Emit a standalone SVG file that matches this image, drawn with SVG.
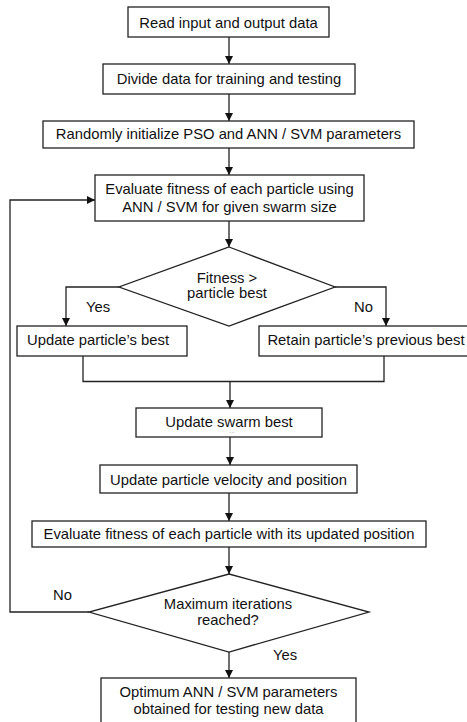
<svg xmlns="http://www.w3.org/2000/svg" width="467" height="722" viewBox="0 0 467 722">
<style>
.box{fill:#fff;stroke:#222;stroke-width:1.3}
.t{font-family:"Liberation Sans",Arial,sans-serif;font-size:14.8px;fill:#111;text-anchor:middle;dominant-baseline:central}
.lbl{font-family:"Liberation Sans",Arial,sans-serif;font-size:14.8px;fill:#111;dominant-baseline:central}
.c{fill:none;stroke:#222;stroke-width:1.3}
</style>
<defs>
<marker id="ah" markerWidth="8" markerHeight="8" refX="8" refY="4" orient="auto" markerUnits="userSpaceOnUse">
<path d="M0,0 L8,4 L0,8 Z" fill="#111"/>
</marker>
</defs>
<rect width="467" height="722" fill="#fff"/>
<g id="connectors">
<line class="c" x1="229" y1="37" x2="229" y2="64" marker-end="url(#ah)"/>
<line class="c" x1="229" y1="94" x2="229" y2="121" marker-end="url(#ah)"/>
<line class="c" x1="229" y1="148" x2="229" y2="175" marker-end="url(#ah)"/>
<line class="c" x1="229" y1="221" x2="229" y2="247" marker-end="url(#ah)"/>
<polyline class="c" points="119,287 66,287 66,326" marker-end="url(#ah)"/>
<polyline class="c" points="335,287 386,287 386,326" marker-end="url(#ah)"/>
<polyline class="c" points="83,356 83,381.5 384,381.5 384,356"/>
<line class="c" x1="230" y1="381.5" x2="230" y2="408" marker-end="url(#ah)"/>
<line class="c" x1="230" y1="437" x2="230" y2="465" marker-end="url(#ah)"/>
<line class="c" x1="229" y1="493" x2="229" y2="521" marker-end="url(#ah)"/>
<line class="c" x1="229" y1="547" x2="229" y2="574" marker-end="url(#ah)"/>
<polyline class="c" points="89,612 10,612 10,200 95,200" marker-end="url(#ah)"/>
<line class="c" x1="229" y1="652" x2="229" y2="678" marker-end="url(#ah)"/>
<text class="lbl" x="86" y="307">Yes</text>
<text class="lbl" x="354" y="307">No</text>
<text class="lbl" x="53" y="595">No</text>
<text class="lbl" x="273" y="655">Yes</text>
</g>
<g id="n1"><rect class="box" x="128" y="7" width="201" height="30"/><text class="t" x="228.5" y="22.5">Read input and output data</text></g>
<g id="n2"><rect class="box" x="103" y="64" width="252" height="30"/><text class="t" x="229" y="79">Divide data for training and testing</text></g>
<g id="n3"><rect class="box" x="43" y="121" width="371" height="27"/><text class="t" x="228.5" y="134">Randomly initialize PSO and ANN / SVM parameters</text></g>
<g id="n4"><rect class="box" x="95" y="175" width="269" height="46"/><text class="t" x="229.5" y="189">Evaluate fitness of each particle using</text><text class="t" x="229.5" y="207">ANN / SVM for given swarm size</text></g>
<g id="d1"><polygon class="box" points="229,247 335,287 229,326 119,287"/><text class="t" x="227" y="278">Fitness &gt;</text><text class="t" x="227" y="293">particle best</text></g>
<g id="n5"><rect class="box" x="17" y="326" width="170" height="30"/><text class="t" x="98" y="340">Update particle’s best</text></g>
<g id="n6"><rect class="box" x="259" y="326" width="212" height="30"/><text class="t" x="366" y="340">Retain particle’s previous best</text></g>
<g id="n7"><rect class="box" x="136" y="408" width="186" height="29"/><text class="t" x="229" y="421.5">Update swarm best</text><text x="232" y="433" font-family="Liberation Sans,sans-serif" font-size="6" fill="#777" text-anchor="middle">...</text></g>
<g id="n8"><rect class="box" x="100" y="465" width="257" height="28"/><text class="t" x="228.5" y="479.5">Update particle velocity and position</text></g>
<g id="n9"><rect class="box" x="32" y="521" width="394" height="26"/><text class="t" x="229" y="533.5">Evaluate fitness of each particle with its updated position</text></g>
<g id="d2"><polygon class="box" points="229,574 369,612 229,652 89,612"/><text class="t" x="228" y="604">Maximum iterations</text><text class="t" x="228" y="620">reached?</text></g>
<g id="n10"><rect class="box" x="101" y="678" width="255" height="50"/><text class="t" x="228.5" y="692">Optimum ANN / SVM parameters</text><text class="t" x="228.5" y="709">obtained for testing new data</text></g>
</svg>
